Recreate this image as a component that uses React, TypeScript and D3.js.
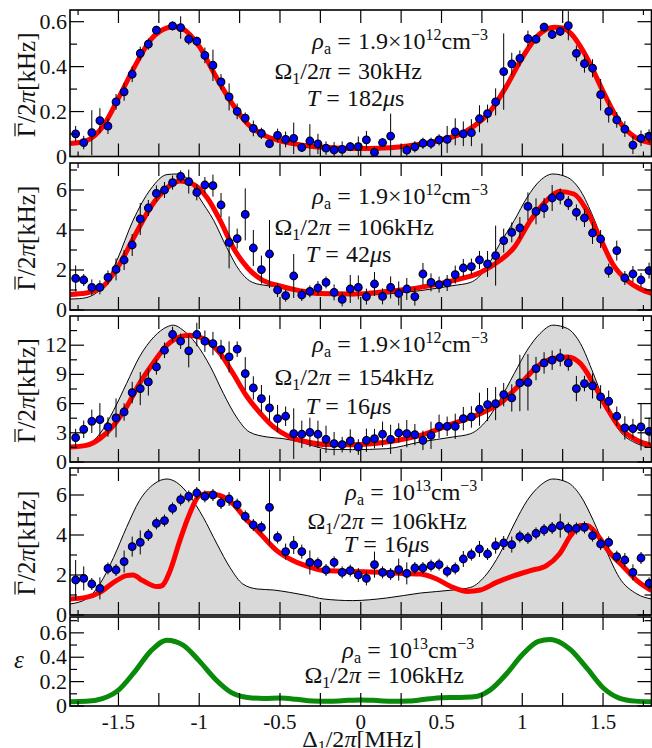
import React from "react";
import * as d3 from "d3";

// ---------- shared detuning grid of the measured points (MHz) ----------
const X = [
  -1.765, -1.715, -1.665, -1.615, -1.565, -1.515, -1.465, -1.415, -1.365, -1.315,
  -1.265, -1.215, -1.165, -1.115, -1.065, -1.015, -0.965, -0.915, -0.865, -0.815,
  -0.765, -0.715, -0.665, -0.615, -0.565, -0.515, -0.465, -0.415, -0.365, -0.315,
  -0.265, -0.215, -0.165, -0.115, -0.065, -0.015, 0.035, 0.085, 0.135, 0.185,
  0.235, 0.285, 0.335, 0.385, 0.435, 0.485, 0.535, 0.585, 0.635, 0.685,
  0.735, 0.785, 0.835, 0.885, 0.935, 0.985, 1.035, 1.085, 1.135, 1.185,
  1.235, 1.285, 1.335, 1.385, 1.435, 1.485, 1.535, 1.585, 1.635, 1.685,
  1.735, 1.785,
];

// ---------- panel 1 ----------
const p1Y = [
  0.101, 0.062, 0.106, 0.16, 0.135, 0.243, 0.288, 0.366, 0.459, 0.5,
  0.562, null, 0.581, 0.574, 0.522, 0.513, 0.45, 0.406, 0.332, 0.265,
  0.201, 0.171, 0.125, 0.103, 0.057, 0.094, 0.076, 0.081, 0.04, 0.069,
  0.056, 0.037, 0.029, 0.032, 0.044, 0.044, 0.074, 0.018, 0.062, 0.091,
  null, 0.028, 0.043, 0.059, 0.059, 0.074, 0.076, 0.11, 0.101, 0.106,
  0.168, 0.191, 0.243, 0.378, 0.412, 0.437, 0.525, 0.522, 0.576, 0.543,
  0.557, 0.582, 0.459, 0.413, 0.393, 0.275, 0.201, 0.163, 0.122, 0.051,
  0.081, 0.091,
];
const p1Err = [
  0.035, 0.03, 0.1, 0.055, 0.035, 0.035, 0.04, 0.035, 0.03, 0.025,
  0.02, 0, 0.02, 0.05, 0.025, 0.02, 0.035, 0.07, 0.035, 0.06,
  0.035, 0.025, 0.035, 0.025, 0.02, 0.03, 0.035, 0.07, 0.02, 0.075,
  0.045, 0.03, 0.035, 0.035, 0.02, 0.045, 0.04, 0.025, 0.02, 0.1,
  0, 0.025, 0.025, 0.025, 0.025, 0.025, 0.06, 0.06, 0.055, 0.06,
  0.06, 0.04, 0.06, 0.17, 0.05, 0.035, 0.035, 0.02, 0.02, 0.02,
  0.02, 0.065, 0.035, 0.04, 0.04, 0.07, 0.05, 0.035, 0.035, 0.04,
  0.035, 0.03,
];
const p1FitX = [-1.8, -1.7, -1.6, -1.5, -1.4, -1.3, -1.2, -1.15, -1.1, -1.0, -0.9, -0.8, -0.7, -0.6, -0.5, -0.4, -0.3, -0.2, -0.1, 0, 0.1, 0.2, 0.3, 0.4, 0.5, 0.6, 0.7, 0.8, 0.9, 1.0, 1.1, 1.2, 1.25, 1.3, 1.4, 1.5, 1.6, 1.7, 1.8];
const p1FitY = [0.058, 0.07, 0.13, 0.26, 0.4, 0.52, 0.572, 0.578, 0.568, 0.49, 0.36, 0.24, 0.145, 0.095, 0.07, 0.055, 0.045, 0.04, 0.037, 0.036, 0.037, 0.04, 0.048, 0.058, 0.075, 0.095, 0.135, 0.2, 0.31, 0.44, 0.54, 0.575, 0.572, 0.548, 0.44, 0.29, 0.155, 0.085, 0.06];

// ---------- panel 2 ----------
const p2Y = [
  1.58, 1.5, 1.13, 1.13, 1.63, 2.03, 2.5, 3.25, 4.55, 5.1,
  5.83, 6.0, 6.37, 6.68, 6.42, 5.88, 6.25, 6.22, 5.25, 3.38,
  3.57, 4.78, 3.1, 2.02, 2.8, 1.0, 0.72, 1.7, 0.75, 0.93,
  1.1, 1.38, 0.88, 0.53, 1.05, 1.13, 0.67, 1.3, 0.68, 1.13,
  0.83, 1.05, 0.67, 1.8, 1.38, 1.27, 1.35, 1.77, 2.1, 2.17,
  2.5, 2.3, 2.72, 3.47, 3.88, 4.1, 5.18, 4.93, 5.1, 5.6,
  5.68, 5.35, 4.88, 4.6, 3.85, 3.55, 1.97, 2.97, 1.6, 1.8,
  1.5, 1.97,
];
const p2Err = [
  0.65, 0.3, 0.4, 0.35, 0.35, 0.55, 0.5, 0.55, 0.8, 0.4,
  0.4, 0.4, 0.35, 0.3, 0.6, 0.4, 0.4, 0.55, 0.6, 1.3,
  0.5, 1.3, 0.9, 0.7, 1.7, 0.35, 0.3, 1.1, 0.3, 0.3,
  0.35, 0.3, 0.4, 0.35, 0.7, 0.6, 0.4, 0.6, 0.4, 0.55,
  0.6, 0.55, 0.45, 0.55, 0.45, 0.4, 0.4, 0.45, 0.45, 0.4,
  0.45, 0.65, 1.5, 0.6, 0.5, 0.55, 0.7, 0.65, 0.5, 0.65,
  0.4, 0.35, 0.4, 0.45, 0.55, 0.45, 0.35, 0.5, 0.35, 0.4,
  0.35, 0.4,
];
const p2FitX = [-1.8, -1.7, -1.6, -1.5, -1.4, -1.3, -1.2, -1.12, -1.04, -0.95, -0.87, -0.79, -0.7, -0.62, -0.5, -0.38, -0.25, -0.05, 0.16, 0.37, 0.57, 0.74, 0.86, 0.95, 1.05, 1.15, 1.23, 1.32, 1.4, 1.48, 1.56, 1.65, 1.73, 1.8];
const p2FitY = [0.78, 0.85, 1.15, 2.2, 3.7, 5.15, 6.1, 6.45, 6.3, 5.6, 4.47, 3.13, 2.1, 1.55, 1.2, 0.97, 0.82, 0.8, 0.93, 1.13, 1.47, 1.88, 2.47, 3.13, 4.47, 5.47, 5.93, 5.8, 4.97, 3.63, 2.3, 1.47, 1.05, 0.83];
const p2RefX = [-1.8, -1.74, -1.67, -1.57, -1.51, -1.41, -1.3, -1.2, -1.14, -1.06, -1.0, -0.91, -0.83, -0.75, -0.67, -0.58, -0.48, -0.38, -0.27, -0.05, 0.16, 0.37, 0.57, 0.68, 0.78, 0.86, 0.95, 1.03, 1.11, 1.19, 1.28, 1.36, 1.44, 1.52, 1.6, 1.71, 1.8];
const p2RefY = [0.55, 0.57, 0.7, 1.47, 2.47, 4.47, 6.05, 6.77, 6.8, 6.47, 5.63, 4.47, 3.13, 1.97, 1.38, 1.22, 1.13, 0.97, 0.8, 0.72, 0.8, 0.97, 1.22, 1.38, 2.13, 3.3, 4.47, 5.63, 6.47, 6.8, 6.63, 5.97, 4.63, 2.97, 1.8, 1.22, 0.97];

// ---------- panel 3 ----------
const p3Y = [
  2.5, 3.36, 4.18, 4.35, 3.6, 4.53, 5.14, 7.13, 7.54, 8.23,
  9.77, 11.48, 13.1, 12.41, 11.42, 13.1, 12.41, 12.17, 11.55, 10.8,
  11.59, 9.08, 7.61, 6.51, 5.55, 4.46, 4.7, 2.91, 2.85, 3.05,
  2.85, 2.33, 1.89, 1.78, 2.16, 1.54, 2.23, 2.4, 2.85, 2.33,
  2.98, 2.91, 2.81, 2.23, 2.74, 3.67, 3.67, 3.67, 4.46, 4.63,
  5.42, 5.9, 6.0, 6.92, 6.58, 8.12, 8.19, 9.6, 10.18, 10.46,
  10.73, 10.18, 7.54, 8.06, 7.82, 6.69, 6.24, 4.7, 3.5, 3.43,
  3.6, 3.15,
];
const p3Err = [
  0.9, 0.9, 1.2, 1.7, 1.0, 2.0, 0.9, 1.1, 1.7, 1.4,
  0.8, 0.8, 0.8, 0.8, 1.7, 1.2, 1.1, 1.2, 1.0, 1.6,
  0.8, 1.7, 1.2, 1.4, 1.3, 1.4, 1.0, 2.6, 1.4, 1.5,
  1.4, 1.4, 1.2, 0.8, 1.2, 0.8, 1.2, 1.0, 1.3, 1.5,
  1.0, 1.4, 1.1, 1.0, 1.4, 1.2, 1.0, 1.3, 1.2, 1.1,
  1.7, 1.7, 1.7, 1.2, 1.4, 2.9, 2.9, 1.2, 1.1, 1.0,
  0.9, 0.8, 1.3, 0.8, 1.3, 1.2, 1.1, 1.0, 1.2, 1.0,
  2.4, 1.4,
];
const p3FitX = [-1.8, -1.7, -1.615, -1.53, -1.45, -1.37, -1.28, -1.2, -1.12, -1.06, -0.975, -0.87, -0.79, -0.71, -0.62, -0.54, -0.44, -0.33, -0.21, -0.05, 0.16, 0.37, 0.57, 0.74, 0.86, 0.99, 1.09, 1.19, 1.28, 1.36, 1.44, 1.52, 1.6, 1.71, 1.8];
const p3FitY = [1.54, 1.71, 2.4, 3.77, 5.66, 8.06, 10.28, 12.0, 12.86, 13.03, 12.68, 11.14, 9.08, 6.86, 4.97, 3.6, 2.57, 2.06, 1.8, 1.78, 2.06, 2.74, 3.94, 4.97, 6.0, 8.06, 9.77, 10.63, 10.8, 10.11, 8.06, 5.66, 3.6, 2.23, 1.71];
const p3RefX = [-1.8, -1.7, -1.615, -1.53, -1.45, -1.37, -1.28, -1.2, -1.16, -1.1, -1.02, -0.93, -0.85, -0.77, -0.69, -0.58, -0.48, -0.38, -0.27, -0.19, -0.05, 0.16, 0.37, 0.57, 0.68, 0.78, 0.86, 0.95, 1.03, 1.11, 1.19, 1.28, 1.36, 1.44, 1.52, 1.6, 1.71, 1.8];
const p3RefY = [1.37, 1.71, 2.91, 5.31, 8.06, 10.8, 12.86, 13.88, 14.06, 13.54, 12.17, 9.77, 7.03, 4.63, 3.09, 2.57, 2.4, 2.06, 1.54, 1.3, 1.27, 1.37, 2.06, 2.57, 2.91, 4.29, 6.34, 9.08, 11.48, 13.2, 14.06, 13.71, 12.17, 9.08, 5.66, 3.26, 1.89, 1.47];

// ---------- panel 4 ----------
const p4Y = [
  1.75, 1.83, 1.55, 1.33, 2.33, 2.25, 2.67, 3.42, 3.63, 4.0,
  4.58, 4.72, 5.33, 5.77, 5.93, 6.1, 5.93, 6.0, 5.6, 5.8,
  5.52, 4.93, 4.5, 4.38, 5.38, 3.88, 3.17, 3.5, 3.17, 2.63,
  2.58, 2.25, 2.63, 2.13, 2.22, 2.0, 1.83, 2.52, 2.13, 2.05,
  2.27, 2.08, 2.35, 2.35, 2.47, 2.52, 2.18, 2.33, 2.8, 3.02,
  3.3, 3.05, 3.47, 3.6, 3.52, 3.92, 3.85, 4.08, 4.25, 4.35,
  4.47, 4.33, 4.33, 4.38, 3.97, 3.55, 3.63, 2.92, 2.75, 2.13,
  2.85, 1.58,
];
const p4Err = [
  1.0, 0.6, 0.3, 0.55, 0.3, 0.3, 0.55, 0.5, 0.6, 0.3,
  0.3, 0.3, 0.3, 0.3, 0.3, 0.3, 0.3, 0.3, 0.3, 0.35,
  0.3, 0.3, 0.3, 0.3, 1.9, 0.3, 0.4, 0.45, 0.35, 0.6,
  0.3, 0.3, 0.3, 0.3, 0.3, 0.35, 0.35, 0.65, 0.3, 0.3,
  0.55, 0.55, 0.3, 0.3, 0.3, 0.3, 0.3, 0.3, 0.4, 0.3,
  0.4, 0.3, 0.4, 0.35, 0.4, 0.3, 0.3, 0.3, 0.3, 0.3,
  0.6, 0.3, 0.3, 0.3, 0.3, 0.3, 0.3, 0.3, 0.35, 0.4,
  0.3, 0.3,
];
const p4FitX = [-1.8, -1.7, -1.615, -1.53, -1.45, -1.41, -1.35, -1.26, -1.23, -1.18, -1.12, -1.06, -1.0, -0.95, -0.87, -0.79, -0.71, -0.62, -0.52, -0.42, -0.31, -0.23, -0.05, 0.16, 0.26, 0.37, 0.47, 0.57, 0.66, 0.74, 0.84, 0.95, 1.05, 1.15, 1.23, 1.3, 1.36, 1.4, 1.46, 1.54, 1.63, 1.71, 1.8];
const p4FitY = [0.8, 0.88, 1.13, 1.63, 1.97, 2.0, 1.72, 1.42, 1.47, 2.22, 3.72, 5.05, 5.97, 6.08, 5.97, 5.55, 4.8, 4.05, 3.22, 2.72, 2.38, 2.22, 2.18, 2.13, 2.08, 2.05, 1.8, 1.38, 1.18, 1.25, 1.63, 1.97, 2.22, 2.47, 3.05, 3.97, 4.47, 4.47, 4.05, 3.13, 2.38, 1.72, 1.22];
const p4RefX = [-1.8, -1.7, -1.615, -1.53, -1.45, -1.37, -1.28, -1.2, -1.14, -1.06, -0.975, -0.89, -0.81, -0.73, -0.64, -0.54, -0.44, -0.33, -0.23, -0.05, 0.16, 0.37, 0.57, 0.68, 0.78, 0.86, 0.95, 1.03, 1.11, 1.19, 1.28, 1.36, 1.44, 1.52, 1.6, 1.71, 1.8];
const p4RefY = [0.55, 0.8, 1.55, 2.88, 4.38, 5.72, 6.55, 6.8, 6.63, 5.97, 4.88, 3.55, 2.38, 1.55, 1.3, 1.25, 1.13, 0.97, 0.8, 0.72, 0.85, 1.1, 1.25, 1.38, 2.05, 3.05, 4.55, 5.72, 6.47, 6.8, 6.63, 5.97, 4.72, 3.22, 1.88, 1.05, 0.8];

// ---------- panel 5 (efficiency) ----------
const p5X = [-1.8, -1.7, -1.6, -1.5, -1.4, -1.3, -1.2, -1.1, -1.0, -0.9, -0.8, -0.7, -0.6, -0.5, -0.4, -0.3, -0.2, -0.1, 0, 0.1, 0.2, 0.3, 0.4, 0.5, 0.6, 0.7, 0.8, 0.9, 1.0, 1.1, 1.17, 1.25, 1.3, 1.4, 1.5, 1.6, 1.7, 1.8];
const p5Y = [0.035, 0.038, 0.06, 0.13, 0.28, 0.45, 0.54, 0.5, 0.37, 0.22, 0.11, 0.07, 0.062, 0.065, 0.055, 0.04, 0.038, 0.045, 0.05, 0.045, 0.038, 0.04, 0.055, 0.068, 0.07, 0.075, 0.13, 0.26, 0.42, 0.53, 0.545, 0.51, 0.46, 0.31, 0.15, 0.065, 0.04, 0.035];

// ---------- ticks ----------
const xTicks = [-1.75, -1.5, -1.25, -1, -0.75, -0.5, -0.25, 0, 0.25, 0.5, 0.75, 1, 1.25, 1.5, 1.75];
const xTickLabels = ["-1.5", "-1", "-0.5", "0", "0.5", "1", "1.5"];
const xTickLabelValues = [-1.5, -1, -0.5, 0, 0.5, 1, 1.5];

const FONT_STYLE = { fontFamily: '"Liberation Serif", "Times New Roman", Times, serif' };
const L = 70;
const R = 651.5;
const xs = d3.scaleLinear().domain([-1.8, 1.8]).range([L, R]);

type Panel = {
  top: number;
  bottom: number;
  ymax: number;
  major: number[];
  majorLabels: string[];
  minor: number[];
  Y?: (number | null)[];
  E?: number[];
  fitX: number[];
  fitY: number[];
  fitColor: string;
  refX?: number[];
  refY?: number[];
  fill: boolean;
};

const panels: Panel[] = [
  { top: 10, bottom: 156.5, ymax: 0.652, major: [0, 0.2, 0.4, 0.6], majorLabels: ["0", "0.2", "0.4", "0.6"], minor: [0.1, 0.3, 0.5], Y: p1Y, E: p1Err, fitX: p1FitX, fitY: p1FitY, fitColor: "#ff0000", refX: p1FitX, refY: p1FitY, fill: true },
  { top: 163, bottom: 310, ymax: 7.35, major: [0, 2, 4, 6], majorLabels: ["0", "2", "4", "6"], minor: [1, 3, 5, 7], Y: p2Y, E: p2Err, fitX: p2FitX, fitY: p2FitY, fitColor: "#ff0000", refX: p2RefX, refY: p2RefY, fill: true },
  { top: 316, bottom: 462, ymax: 15, major: [0, 3, 6, 9, 12], majorLabels: ["0", "3", "6", "9", "12"], minor: [1.5, 4.5, 7.5, 10.5, 13.5], Y: p3Y, E: p3Err, fitX: p3FitX, fitY: p3FitY, fitColor: "#ff0000", refX: p3RefX, refY: p3RefY, fill: true },
  { top: 468, bottom: 615, ymax: 7.35, major: [0, 2, 4, 6], majorLabels: ["0", "2", "4", "6"], minor: [1, 3, 5, 7], Y: p4Y, E: p4Err, fitX: p4FitX, fitY: p4FitY, fitColor: "#ff0000", refX: p4RefX, refY: p4RefY, fill: true },
  { top: 617, bottom: 706, ymax: 0.73, major: [0, 0.2, 0.4, 0.6], majorLabels: ["0", "0.2", "0.4", "0.6"], minor: [0.1, 0.3, 0.5, 0.7], fitX: p5X, fitY: p5Y, fitColor: "#0a8a0a", fill: false },
];

const SUB = 16;

function Rho() {
  return (
    <>
      <tspan fontStyle="italic">ρ</tspan>
      <tspan dy={5} fontSize={SUB}>a</tspan>
    </>
  );
}
function Omega() {
  return (
    <>
      <tspan>Ω</tspan>
      <tspan dy={5} fontSize={SUB}>1</tspan>
      <tspan dy={-5}>/2</tspan>
      <tspan fontStyle="italic">π</tspan>
    </>
  );
}
function Dens({ mant, exp }: { mant: string; exp: string }) {
  return (
    <>
      <tspan>{mant}</tspan>
      <tspan dy={-9} fontSize={SUB}>{exp}</tspan>
      <tspan dy={9}>cm</tspan>
      <tspan dy={-9} fontSize={SUB}>−3</tspan>
    </>
  );
}

function EqLine({ eq, y, left, right }: { eq: number; y: number; left: React.ReactNode; right: React.ReactNode }) {
  return (
    <g fontSize={24} fill="#111">
      <text x={eq - 13} y={y} textAnchor="end">{left}</text>
      <text x={eq} y={y} textAnchor="middle">=</text>
      <text x={eq + 14} y={y} textAnchor="start">{right}</text>
    </g>
  );
}

function PanelView({ p, idx }: { p: Panel; idx: number }) {
  const ys = d3.scaleLinear().domain([0, p.ymax]).range([p.bottom, p.top]);
  const clipId = `clip${idx}`;
  const line = d3
    .line<number>()
    .x((_, i) => xs(p.fitX[i]))
    .y((v) => ys(v))
    .curve(d3.curveMonotoneX);
  const refLine = d3
    .line<number>()
    .x((_, i) => xs((p.refX as number[])[i]))
    .y((v) => ys(v))
    .curve(d3.curveMonotoneX);
  const refArea = d3
    .area<number>()
    .x((_, i) => xs((p.refX as number[])[i]))
    .y0(ys(0))
    .y1((v) => ys(v))
    .curve(d3.curveMonotoneX);

  const tickLen = (v: number) => (Math.abs(Math.abs(v) - 1.75) < 1e-6 ? 5 : 13);

  return (
    <g>
      <defs>
        <clipPath id={clipId}>
          <rect x={L} y={p.top} width={R - L} height={p.bottom - p.top} />
        </clipPath>
      </defs>
      <g clipPath={`url(#${clipId})`}>
        {p.fill && p.refY && <path d={refArea(p.refY) || ""} fill="#d9d9d9" stroke="none" />}
        {p.fill && p.refY && p.refX !== p.fitX && (
          <path d={refLine(p.refY) || ""} fill="none" stroke="#000" strokeWidth={1} />
        )}
        <path d={line(p.fitY) || ""} fill="none" stroke={p.fitColor} strokeWidth={5} strokeLinejoin="round" />
        {p.Y &&
          p.Y.map((v, i) =>
            v === null || !p.E || p.E[i] === 0 ? null : (
              <line key={`e${i}`} x1={xs(X[i])} x2={xs(X[i])} y1={ys(v - p.E[i])} y2={ys(v + p.E[i])} stroke="#000" strokeWidth={1} />
            )
          )}
        {p.Y &&
          p.Y.map((v, i) =>
            v === null ? null : (
              <circle key={`c${i}`} cx={xs(X[i])} cy={ys(v)} r={3.8} fill="#0000ff" stroke="#000" strokeWidth={1.2} />
            )
          )}
      </g>
      {xTicks.map((t) => (
        <g key={`xt${t}`} stroke="#000" strokeWidth={1.2}>
          <line x1={xs(t)} x2={xs(t)} y1={p.top} y2={p.top + tickLen(t)} />
          <line x1={xs(t)} x2={xs(t)} y1={p.bottom} y2={p.bottom - tickLen(t)} />
        </g>
      ))}
      {p.major.map((t) => (
        <g key={`ym${t}`} stroke="#000" strokeWidth={1.2}>
          <line x1={L} x2={L + 14} y1={ys(t)} y2={ys(t)} />
          <line x1={R} x2={R - 14} y1={ys(t)} y2={ys(t)} />
        </g>
      ))}
      {p.minor.map((t) => (
        <g key={`yn${t}`} stroke="#000" strokeWidth={1.2}>
          <line x1={L} x2={L + 7} y1={ys(t)} y2={ys(t)} />
          <line x1={R} x2={R - 7} y1={ys(t)} y2={ys(t)} />
        </g>
      ))}
      {p.major.map((t, i) => (
        <text key={`yl${t}`} x={L - 3} y={ys(t) + 7} textAnchor="end" fontSize={22} fill="#111">
          {p.majorLabels[i]}
        </text>
      ))}
      <rect x={L} y={p.top} width={R - L} height={p.bottom - p.top} fill="none" stroke="#000" strokeWidth={1.6} />
    </g>
  );
}

function YLabel({ cy }: { cy: number }) {
  return (
    <g transform={`translate(35, ${cy}) rotate(-90)`}>
      <text x={-54} y={0} textAnchor="start" fontSize={25} fill="#111">
        <tspan>Γ</tspan>
        <tspan>/2</tspan>
        <tspan fontStyle="italic">π</tspan>
        <tspan>[kHz]</tspan>
      </text>
      <line x1={-53} x2={-40} y1={-20} y2={-20} stroke="#111" strokeWidth={1.2} />
    </g>
  );
}

export default function App() {
  return (
    <svg width={652} height={748} viewBox="0 0 652 748" style={{ display: "block", position: "absolute", left: 0, top: 0, background: "#fff", ...FONT_STYLE }}>
      {panels.map((p, i) => (
        <PanelView key={i} p={p} idx={i} />
      ))}

      {panels.slice(0, 4).map((p, i) => (
        <YLabel key={i} cy={(p.top + p.bottom) / 2} />
      ))}
      <text x={19} y={668} textAnchor="middle" fontSize={25} fontStyle="italic" fill="#111">ε</text>

      {xTickLabelValues.map((v, i) => (
        <text key={v} x={xs(v)} y={729} textAnchor="middle" fontSize={21} fill="#111">
          {xTickLabels[i]}
        </text>
      ))}
      <text x={362} y={747} textAnchor="middle" fontSize={24} fill="#111">
        <tspan>Δ</tspan>
        <tspan dy={5} fontSize={SUB}>1</tspan>
        <tspan dy={-5}>/2</tspan>
        <tspan fontStyle="italic">π</tspan>
        <tspan>[MHz]</tspan>
      </text>

      <EqLine eq={344} y={49} left={<Rho />} right={<Dens mant="1.9×10" exp="12" />} />
      <EqLine eq={344} y={79} left={<Omega />} right={<tspan>30kHz</tspan>} />
      <EqLine eq={333} y={106} left={<tspan fontStyle="italic">T</tspan>} right={<><tspan>182</tspan><tspan fontStyle="italic">μ</tspan><tspan>s</tspan></>} />

      <EqLine eq={344} y={204} left={<Rho />} right={<Dens mant="1.9×10" exp="12" />} />
      <EqLine eq={344} y={235} left={<Omega />} right={<tspan>106kHz</tspan>} />
      <EqLine eq={332} y={262} left={<tspan fontStyle="italic">T</tspan>} right={<><tspan>42</tspan><tspan fontStyle="italic">μ</tspan><tspan>s</tspan></>} />

      <EqLine eq={344} y={352} left={<Rho />} right={<Dens mant="1.9×10" exp="12" />} />
      <EqLine eq={344} y={385} left={<Omega />} right={<tspan>154kHz</tspan>} />
      <EqLine eq={332} y={414} left={<tspan fontStyle="italic">T</tspan>} right={<><tspan>16</tspan><tspan fontStyle="italic">μ</tspan><tspan>s</tspan></>} />

      <EqLine eq={377} y={500} left={<Rho />} right={<Dens mant="10" exp="13" />} />
      <EqLine eq={377} y={529} left={<Omega />} right={<tspan>106kHz</tspan>} />
      <EqLine eq={370} y={552} left={<tspan fontStyle="italic">T</tspan>} right={<><tspan>16</tspan><tspan fontStyle="italic">μ</tspan><tspan>s</tspan></>} />

      <EqLine eq={374} y={658} left={<Rho />} right={<Dens mant="10" exp="13" />} />
      <EqLine eq={374} y={683} left={<Omega />} right={<tspan>106kHz</tspan>} />
    </svg>
  );
}
